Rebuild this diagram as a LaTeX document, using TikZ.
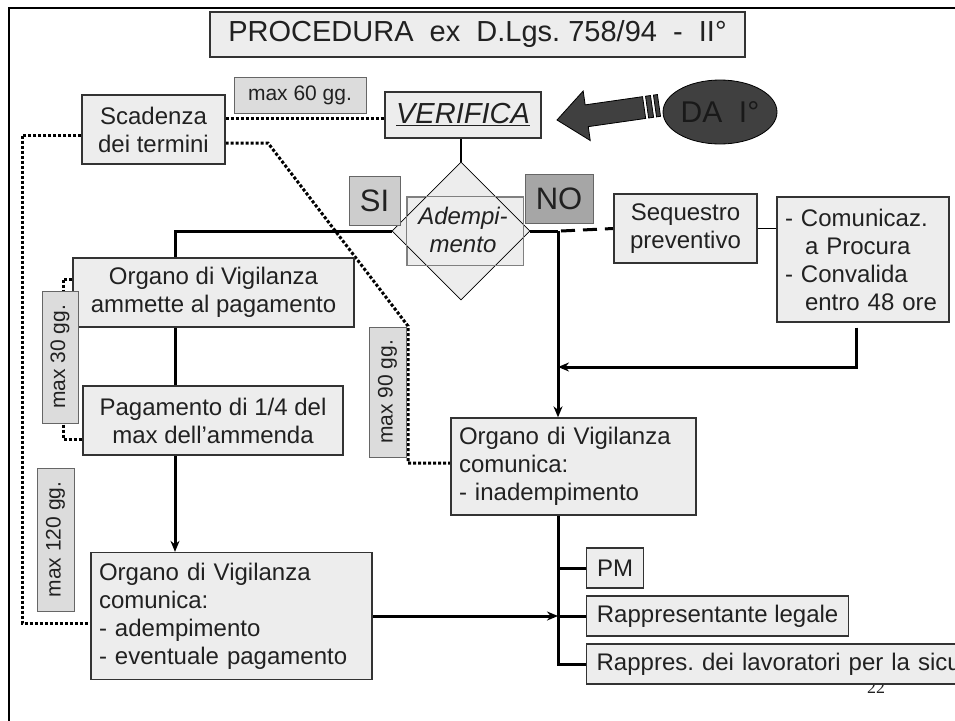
\documentclass[tikz,border=0pt]{standalone}
\usepackage{fontspec}
\setmainfont{Liberation Sans}
\newfontfamily\pagenumfont{Liberation Serif}
\usetikzlibrary{shapes.geometric,arrows.meta,backgrounds}
\definecolor{boxfill}{HTML}{EDEDED}
\definecolor{tagfill}{HTML}{DCDCDC}
\definecolor{sifill}{HTML}{CDCDCD}
\definecolor{nofill}{HTML}{A6A6A6}
\definecolor{darkfill}{HTML}{404040}
\frenchspacing

\begin{document}
\begin{tikzpicture}[x=1pt,y=-1pt,>={Stealth[length=11pt,width=9pt]}]
\tikzstyle{every node}+=[inner sep=0pt, text=black!87]
\tikzstyle{box}=[draw=black!80, fill=boxfill, line width=1.3pt, align=center, font=\fontsize{24}{28}\selectfont]
\tikzstyle{lbox}=[box, align=left, inner xsep=8pt]
\tikzstyle{tag}=[draw=black!60, fill=tagfill, line width=1pt, font=\fontsize{21}{25}\selectfont]
\tikzstyle{flow}=[black, line width=3pt]
\tikzstyle{link}=[black, line width=1.6pt]
\tikzstyle{dots}=[black, line width=3pt, dash pattern=on 3pt off 2pt]
\tikzstyle{block}=[fill=darkfill, draw=black, line width=0.8pt]
\useasboundingbox (0,0) rectangle (955,720);
\clip (0,0) rectangle (955,720);
\draw [line width=2.5pt] (9,730) -- (9,8) -- (965,8);

\node [box, minimum width=535pt, minimum height=45pt, font=\fontsize{29}{32}\selectfont] (title) at (477.5,34.5) {PROCEDURA\ \ ex\ \ D.Lgs. 758/94\ \ -\ \ II°};
\node [tag] [minimum width=132pt, minimum height=36pt] (gg60) at (300,95) {max 60 gg.};
\node [box, minimum width=143pt, minimum height=69pt] (scad) at (153.5,129.5) {Scadenza\\dei termini};
\node [box, minimum width=156pt, minimum height=46pt, font=\itshape\fontsize{29}{32}\selectfont] (verif) at (463,115) {\underline{VERIFICA}};

\begin{scope}[shift={(557,120)}, rotate=8.13]
\filldraw [block] (0,0) -- (30,-25) -- (30,-11) -- (88,-11) -- (88,11) -- (30,11) -- (30,25) -- cycle;
\filldraw [block] (91,-11) rectangle (96,11);
\filldraw [block] (99,-11) rectangle (103,11);
\end{scope}
\node [ellipse, block, minimum width=114pt, minimum height=64pt, font=\fontsize{30}{34}\selectfont, text=black!90] (da) at (720,112) {DA\ \ I°};

\node [box, draw=black!50, line width=0.8pt, minimum width=116pt, minimum height=68pt] (frame) at (465,231) {};
\node [diamond, draw=black, fill=boxfill, line width=0.8pt, minimum width=138pt, minimum height=138pt] (dia) at (461,231) {};
\draw [black!50, line width=0.8pt] (frame.north west) rectangle (frame.south east);
\node [font=\itshape\fontsize{24}{28}\selectfont, align=center] (adtext) at (463,230) {Adempi-\\mento};
\node [tag, fill=sifill, minimum width=51pt, minimum height=49pt, font=\fontsize{31}{34}\selectfont] (si) at (374.5,200.5) {SI};
\node [tag, fill=nofill, minimum width=68pt, minimum height=49pt, font=\fontsize{31}{34}\selectfont] (no) at (559,198.5) {NO};

\node [box, minimum width=143pt, minimum height=69pt] (seq) at (685.5,228.5) {Sequestro\\preventivo};
\node [lbox, text width=156pt, minimum height=125pt] (comm) at (863,259.5) {- Comunicaz.\\\hspace*{20pt}a Procura\\- Convalida\\\hspace*{20pt}entro 48 ore};

\node [box, minimum width=281pt, minimum height=69pt] (ammette) at (213.5,292.5) {Organo di Vigilanza\\ammette al pagamento};
\node [box, minimum width=260pt, minimum height=69pt] (pagam) at (213,420.5) {Pagamento di 1/4 del\\max dell’ammenda};
\node [lbox, text width=265pt, minimum height=127pt] (okcom) at (231.5,616) {Organo di Vigilanza\\comunica:\\- adempimento\\- eventuale pagamento};
\node [lbox, text width=229pt, minimum height=97pt] (kocom) at (573.5,466.5) {Organo di Vigilanza\\comunica:\\- inadempimento};

\node [tag, rotate=90, minimum width=132pt, minimum height=36pt] (gg30) at (60,357) {max 30 gg.};
\node [tag, rotate=90, minimum width=130pt, minimum height=37pt] (gg90) at (387.5,392) {max 90 gg.};
\node [tag, rotate=90, minimum width=143pt, minimum height=37pt] (gg120) at (55.5,539.5) {max 120 gg.};

\node [font=\pagenumfont\fontsize{18}{20}\selectfont, anchor=base] (pnum) at (876,693) {22};
\node [box, anchor=west, minimum width=57pt, minimum height=40pt] (pm) at (586,568) {PM};
\node [box, anchor=west, minimum width=262pt, minimum height=40pt] (rlegal) at (586,616) {Rappresentante legale};
\node [lbox, anchor=west, inner xsep=10pt, text width=400pt, minimum height=40pt] (rappres) at (586,664) {Rappres. dei lavoratori per la sicu};

\coordinate (sileft) at (175,231);
\coordinate (nodown) at (558,231);
\coordinate (back) at (558,367);
\coordinate (outer) at (22,623);
\coordinate (inner) at (63,439);

\begin{scope}[on background layer]
\draw [link] (dia.north |- verif.south) -- (dia.north);
\draw [flow, ->] (dia.west) -- (sileft) -- (sileft |- okcom.north);
\draw [flow] (dia.east) -- (nodown);
\draw [flow, dash pattern=on 14pt off 8pt] ([xshift=3pt]nodown) -- (seq.west);
\draw [flow, ->] (nodown) -- (nodown |- kocom.north);
\draw [link] (seq.east) -- (seq.east -| comm.west);
\draw [flow, ->] ([xshift=-7pt,yshift=-5pt]comm.south) |- (back);
\draw [flow] (kocom.south -| nodown) -- (nodown |- rappres.west) -- (rappres.west);
\draw [flow] (nodown |- pm.west) -- (pm.west);
\draw [flow] (nodown |- rlegal.west) -- (rlegal.west);
\draw [flow, ->] ([xshift=-20pt]okcom.east) -- (okcom.east -| nodown);
\draw [dots] ([yshift=11.5pt]scad.east) -- ([yshift=11.5pt]scad.east -| verif.west);
\draw [dots] ([yshift=-13.5pt]scad.east) -- (268,143) -- (408,326) |- ([yshift=3.5pt]kocom.west);
\draw [dots] ([yshift=-5.5pt]scad.west) -| (outer) -- (outer -| okcom.west);
\draw [dots] ([yshift=13.5pt]ammette.west) -| (inner) -- (inner -| pagam.west);
\end{scope}
\end{tikzpicture}
\end{document}
